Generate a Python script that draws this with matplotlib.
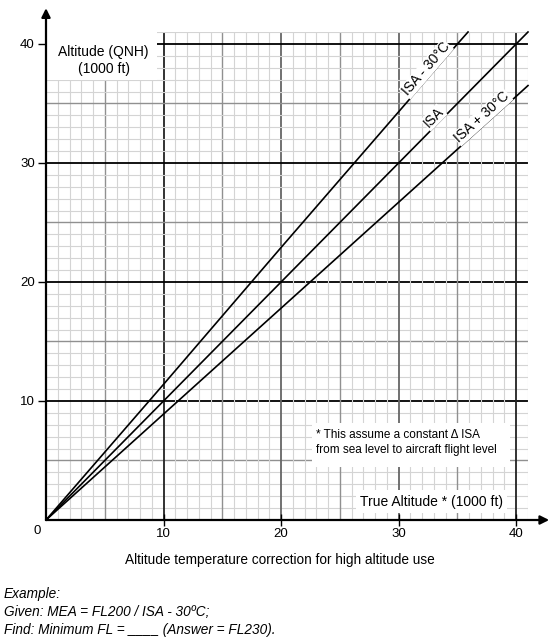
import numpy as np
import matplotlib
matplotlib.use("Agg")
import matplotlib.pyplot as plt
from matplotlib.patches import Rectangle

plt.rcParams["font.family"] = ["Liberation Sans", "DejaVu Sans"]

# true altitude (1000 ft) vs QNH altitude (1000 ft)
isa_cold_true = [0, 10, 20, 30, 35, 35.9]
isa_cold_qnh = [0, 11.4, 22.9, 34.3, 40, 41]
isa_true = [0, 10, 20, 30, 40, 41]
isa_qnh = [0, 10, 20, 30, 40, 41]
isa_warm_true = [0, 10, 20, 30, 40, 41]
isa_warm_qnh = [0, 8.9, 17.8, 26.7, 35.6, 36.5]

ticks = [10, 20, 30, 40]
tick_labels = ["10", "20", "30", "40"]

fig = plt.figure(figsize=(5.6, 6.4), dpi=100)
ax = fig.add_axes([46 / 560, 1 - 520 / 640, 482 / 560, 488 / 640])
ax.set_xlim(0, 41)
ax.set_ylim(0, 41)
for s in ax.spines.values():
    s.set_visible(False)

# graph paper
for v in range(1, 42):
    if v % 10 == 0:
        vc, hc, lw = ("#222222" if v in (10, 40) else "#666666"), "black", 1.3
    elif v % 5 == 0:
        vc, hc, lw = "#909090", "#909090", 1.0
    else:
        vc, hc, lw = "#d4d4d4", "#d4d4d4", 0.8
    ax.axvline(v, color=vc, lw=lw, zorder=1)
    ax.axhline(v, color=hc, lw=lw, zorder=1)

# axes with arrows
arrow = dict(arrowstyle="-|>", color="black", lw=1.6, mutation_scale=13,
             shrinkA=0, shrinkB=0)
ax.annotate("", xy=(0, 43.0), xytext=(0, 0), arrowprops=arrow,
            annotation_clip=False, zorder=5)
ax.annotate("", xy=(42.8, 0), xytext=(0, 0), arrowprops=arrow,
            annotation_clip=False, zorder=5)

ax.set_xticks(ticks, tick_labels)
ax.set_yticks(ticks, tick_labels)
ax.tick_params(axis="x", direction="inout", length=8, width=1, pad=2, labelsize=9.5)
ax.tick_params(axis="y", direction="out", length=6, width=1, pad=2, labelsize=9.5)
ax.text(-0.4, -0.4, "0", ha="right", va="top", fontsize=9.5)

# curves
ax.plot(isa_cold_true, isa_cold_qnh, color="black", lw=1.2, zorder=3, clip_on=False)
ax.plot(isa_true, isa_qnh, color="black", lw=1.2, zorder=3, clip_on=False)
ax.plot(isa_warm_true, isa_warm_qnh, color="black", lw=1.2, zorder=3, clip_on=False)

wb = dict(facecolor="white", edgecolor="none", pad=0.6)
ax.text(32.8, 37.5, "ISA - 30°C", rotation=49.2, rotation_mode="anchor",
        ha="center", va="bottom", fontsize=10, bbox=wb, zorder=4)
ax.text(33.4, 33.4, "ISA", rotation=45.4, rotation_mode="anchor",
        ha="center", va="bottom", fontsize=10, bbox=wb, zorder=4)
ax.text(37.5, 33.4, "ISA + 30°C", rotation=42, rotation_mode="anchor",
        ha="center", va="bottom", fontsize=10, bbox=wb, zorder=4)

# label boxes
ax.add_patch(Rectangle((0.1, 37.0), 9.35, 4.0, facecolor="white",
                       edgecolor="none", zorder=2, clip_on=False))
ax.text(4.9, 38.6, "Altitude (QNH)\n(1000 ft)", ha="center", va="center",
        fontsize=10, linespacing=1.25, zorder=4)

ax.add_patch(Rectangle((22.6, 4.45), 16.9, 3.7, facecolor="white",
                       edgecolor="none", zorder=2))
ax.text(23.0, 6.5, "* This assume a constant \u0394 ISA\nfrom sea level to aircraft flight level",
        ha="left", va="center", fontsize=8.5, linespacing=1.35, zorder=4)

ax.text(32.8, 1.55, "True Altitude * (1000 ft)", ha="center", va="center",
        fontsize=10, zorder=4,
        bbox=dict(facecolor="white", edgecolor="none", pad=3))

fig.text(280 / 560, 1 - 560 / 640, "Altitude temperature correction for high altitude use",
         ha="center", va="center", fontsize=9.8)

ex_style = dict(ha="left", va="center", fontsize=9.8, style="italic")
fig.text(4 / 560, 1 - 594 / 640, "Example:", **ex_style)
fig.text(4 / 560, 1 - 612 / 640, "Given: MEA = FL200 / ISA - 30ºC;", **ex_style)
fig.text(4 / 560, 1 - 630 / 640, "Find: Minimum FL = ____ (Answer = FL230).", **ex_style)

fig.savefig("out.png", dpi=100, facecolor="white")
